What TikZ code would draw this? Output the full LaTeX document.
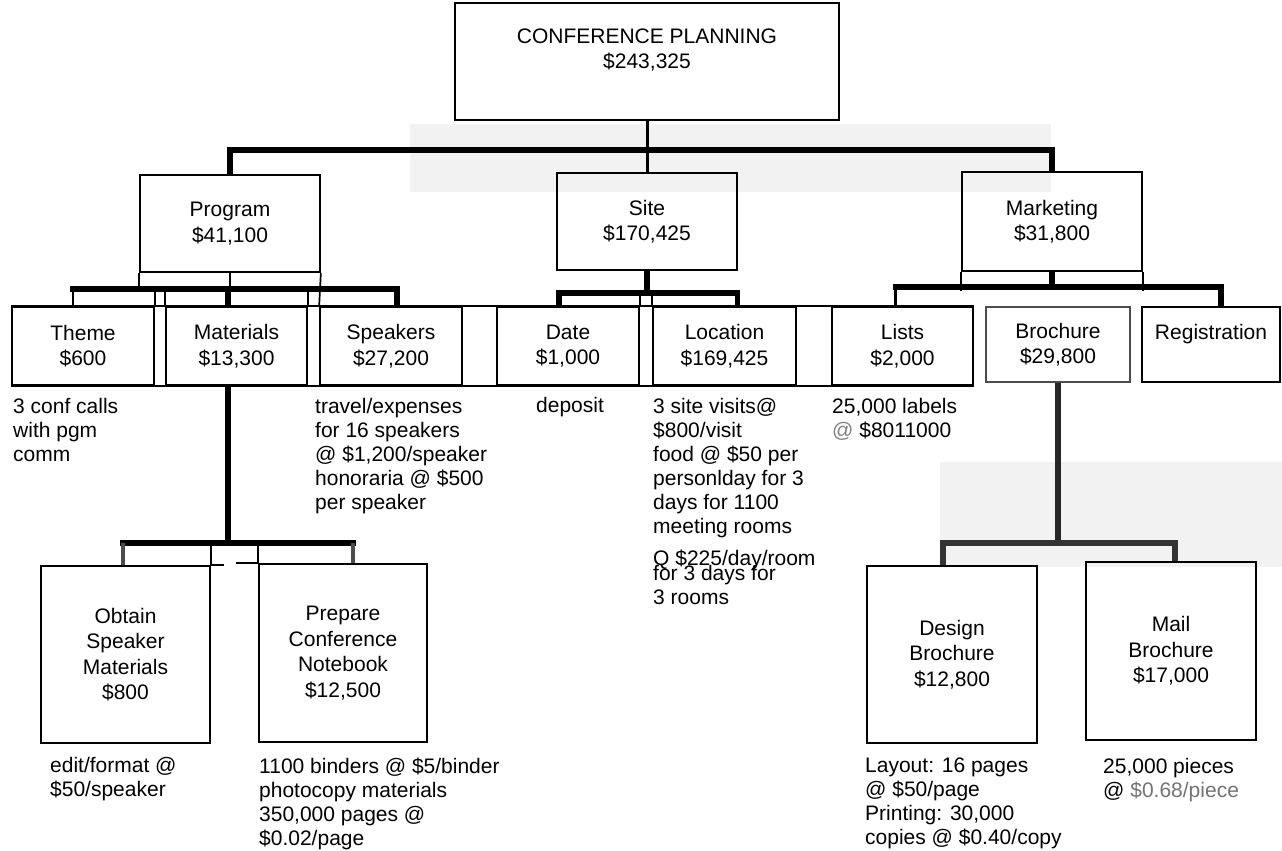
\documentclass[tikz,border=0pt]{standalone}
\usepackage{fontspec}
\setmainfont{Liberation Sans}
\usetikzlibrary{calc}
\newcommand{\cpboxfont}{\fontsize{21pt}{25.5pt}\selectfont}
\newcommand{\cpnotefont}{\fontsize{21pt}{24pt}\selectfont}
\begin{document}
\begin{tikzpicture}[x=1pt,y=-1pt,
  boxline/.style={line width=1.7pt},
  box/.style={draw, boxline, inner sep=0pt, align=center, font=\cpboxfont},
  lbl/.style={inner sep=0pt, align=center, font=\cpboxfont},
  note/.style={anchor=north west, inner sep=0pt, align=left, font=\cpnotefont},
  bus/.style={line width=5.5pt, line cap=rect},
  link/.style={line width=5.5pt},
  thinlink/.style={line width=2.2pt},
  haze/.style={fill=black!5, draw=none}]
\useasboundingbox (0,0) rectangle (1282,851);

% scanner haze
\fill[haze] (410,124) rectangle (1051,192);
\fill[haze] (940,462) rectangle (1282,567);

% ---- root ----
\node[box, minimum width=384pt, minimum height=117pt] (root) at (647,61.5) {};
\node[lbl] (rootlbl) at (647,50) {CONFERENCE PLANNING\\\$243,325};

% ---- second level ----
\node[box, minimum width=180pt, minimum height=97pt] (prog) at (230,223.5) {Program\\\$41,100};
\node[box, minimum width=180pt, minimum height=97pt] (site) at (647,221.5) {Site\\\$170,425};
\node[box, minimum width=180pt, minimum height=99pt] (mkt) at (1052,221.5) {Marketing\\\$31,800};

% ---- third level strip ----
\node[box, minimum width=142pt, minimum height=78pt] (theme) at (83,346) {Theme\\\$600};
\node[box, minimum width=141pt, minimum height=78pt] (mat) at (236.5,346) {Materials\\\$13,300};
\node[box, minimum width=142pt, minimum height=78pt] (spk) at (391,346) {Speakers\\\$27,200};
\node[box, minimum width=142pt, minimum height=78pt] (date) at (568,346) {Date\\\$1,000};
\node[box, minimum width=143pt, minimum height=78pt] (loc) at (724.5,346) {Location\\\$169,425};
\node[box, minimum width=141pt, minimum height=78pt] (lists) at (902.5,346) {Lists\\\$2,000};
\node[box, draw=black!70, minimum width=144pt, minimum height=75pt] (broch) at (1058,344.5) {Brochure\\\$29,800};
\node[box, minimum width=138pt, minimum height=75pt] (reg) at (1211,344.5) {Registration\\\mbox{}};

% strip top and bottom rules across the spacer cells
\draw[boxline] (theme.north west) -- (lists.north east);
\draw[boxline] (theme.south west) -- (lists.south east);

% side rules carried up to the group bars
\draw[boxline] (prog.south west) -- ++(0,18);
\draw[boxline] (prog.south east) -- (spk.north west);
\draw[boxline] (theme.north east) -- ++(0,-15);
\draw[boxline] (mat.north west) -- ++(0,-15);
\draw[boxline] (mat.north east) -- ++(0,-15);
\draw[boxline] (date.north east) -- ++(0,-12);
\draw[boxline] (loc.north west) -- ++(0,-12);
\draw[boxline] (mkt.south west) -- ++(0,19);
\draw[boxline] (mkt.south east) -- ++(0,19);

% ---- fourth level ----
\node[box, minimum width=169pt, minimum height=177pt] (obt) at (125.5,654.5) {Obtain\\Speaker\\Materials\\\$800};
\node[box, minimum width=168pt, minimum height=178pt] (prep) at (343,653) {Prepare\\Conference\\Notebook\\\$12,500};
\node[box, minimum width=170pt, minimum height=177pt] (des) at (952,654.5) {Design\\Brochure\\\$12,800};
\node[box, minimum width=170pt, minimum height=178pt] (mail) at (1171,651) {Mail\\Brochure\\\$17,000};

\draw[boxline] (obt.north east) -- ++(13,0);
\draw[boxline] (prep.north west) -- ++(-22,0);

% ---- connectors: root ----
\coordinate (tbus) at (0,150);
\draw[line width=3pt] (root.south) -- (site.north);
\draw[bus] (prog.north |- tbus) -- (mkt.north |- tbus);
\draw[link] (prog.north |- tbus) -- (prog.north);
\draw[link] (mkt.north |- tbus) -- (mkt.north);

% ---- connectors: Program ----
\coordinate (pbus) at (0,289);
\coordinate (thT) at ([xshift=-10pt]theme.north);
\coordinate (maT) at ([xshift=-8.5pt]mat.north);
\coordinate (spT) at ([xshift=6pt]spk.north);
\draw[thinlink] (prog.south) -- (prog.south |- pbus);
\draw[bus] (thT |- pbus) -- (spT |- pbus);
\draw[thinlink] (thT |- pbus) -- (thT);
\draw[link] (maT |- pbus) -- (maT);
\draw[link] (spT |- pbus) -- (spT);

% ---- connectors: Site ----
\coordinate (sbus) at (0,293);
\coordinate (daT) at ([xshift=-9pt]date.north);
\coordinate (loT) at ([xshift=13pt]loc.north);
\draw[link] (site.south) -- (site.south |- sbus);
\draw[bus] (daT |- sbus) -- (loT |- sbus);
\draw[link] (daT |- sbus) -- (daT);
\draw[link] (loT |- sbus) -- (loT);

% ---- connectors: Marketing ----
\coordinate (kbus) at (0,287);
\coordinate (liT) at ([xshift=-7pt]lists.north);
\coordinate (reT) at ([xshift=10pt]reg.north);
\draw[link] (mkt.south) -- (mkt.south |- kbus);
\draw[bus] (liT |- kbus) -- (reT |- kbus);
\draw[thinlink] (liT |- kbus) -- (liT);
\draw[link] (reT |- kbus) -- (reT);

% ---- connectors: Materials ----
\coordinate (matbus) at (0,543);
\coordinate (maB) at ([xshift=-8.5pt]mat.south);
\coordinate (obT) at ([xshift=-2.5pt]obt.north);
\coordinate (prT) at ([xshift=10pt]prep.north);
\draw[link] (maB) -- (maB |- matbus);
\draw[bus] (obT |- matbus) -- (prT |- matbus);
\draw[link, line width=4pt, black!70] (obT |- matbus) -- (obT);
\draw[link, line width=4pt, black!70] (prT |- matbus) -- (prT);
\draw[boxline] (obt.north east) -- (obt.north east |- matbus);
\draw[boxline] (prep.north west) -- (prep.north west |- matbus);

% ---- connectors: Brochure ----
\coordinate (brbus) at (0,543);
\coordinate (deT) at ([xshift=-9pt]des.north);
\coordinate (maI) at ([xshift=4pt]mail.north);
\draw[link, black!85] (broch.south) -- (broch.south |- brbus);
\draw[bus, black!80] (deT |- brbus) -- (maI |- brbus);
\draw[link, black!80] (deT |- brbus) -- (deT);
\draw[link, black!80] (maI |- brbus) -- (maI);

% ---- notes ----
\node[note] (nTheme) at (13,398) {3 conf calls\\with pgm\\comm};
\node[note] (nSpk) at (315,398) {travel/expenses\\for 16 speakers\\@ \$1,200/speaker\\honoraria @ \$500\\per speaker};
\node[note] (nDate) at (536,397) {deposit};
\node[note] (nLoc) at (653,398) {3 site visits@\\\$800/visit\\food @ \$50 per\\personlday for 3\\days for 1100\\meeting rooms};
\node[note] (nLocB) at (653,550) {Q \$225/day/room};
\node[note] (nLocC) at (653,565) {for 3 days for\\3 rooms};
\node[note] (nLists) at (832,398) {25,000 labels\\{\color{black!50}@} \$8011000};
\node[note] (nObt) at (50,757) {edit/format @\\\$50/speaker};
\node[note] (nPrep) at (259,758) {1100 binders @ \$5/binder\\photocopy materials\\350,000 pages @\\\$0.02/page};
\node[note] (nDes) at (865,758) {Layout: 16 pages\\@ \$50/page\\Printing: 30,000\\copies @ \$0.40/copy};
\node[note] (nMail) at (1103,758) {25,000 pieces\\@ {\color{black!55}\$0.68/piece}};
\end{tikzpicture}
\end{document}
